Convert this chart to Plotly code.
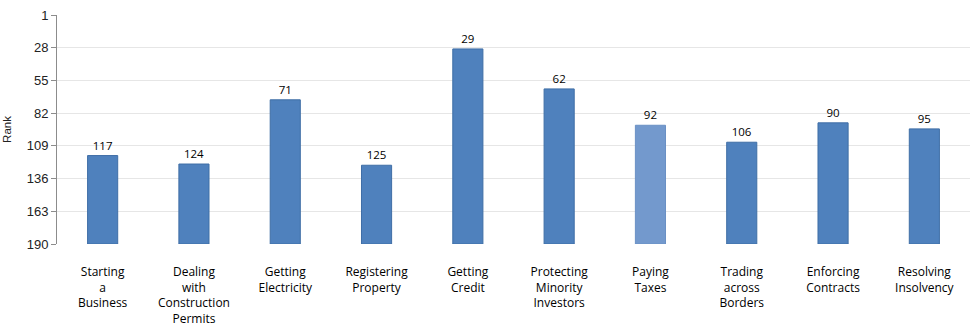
import plotly.graph_objects as go

categories = ["Starting<br>a<br>Business", "Dealing<br>with<br>Construction<br>Permits",
              "Getting<br>Electricity", "Registering<br>Property", "Getting<br>Credit",
              "Protecting<br>Minority<br>Investors", "Paying<br>Taxes", "Trading<br>across<br>Borders",
              "Enforcing<br>Contracts", "Resolving<br>Insolvency"]
ranks = [117, 124, 71, 125, 29, 62, 92, 106, 90, 95]
tick_vals = [1, 28, 55, 82, 109, 136, 163, 190]
base_rank = 190

colors = ["#7399CD" if c.startswith("Paying") else "#4F81BD" for c in categories]
line_colors = ["#6A90C4" if c.startswith("Paying") else "#3F6EA6" for c in categories]

fig = go.Figure(go.Bar(
    x=categories,
    y=[r - base_rank for r in ranks],
    base=[base_rank] * len(ranks),
    width=0.33,
    marker=dict(color=colors, line=dict(color=line_colors, width=1)),
    text=[str(r) for r in ranks],
    textposition="outside",
    textfont=dict(family="Open Sans", size=11.5, color="#000000"),
    cliponaxis=False,
    hoverinfo="skip",
))

fig.update_layout(
    width=975, height=328,
    margin=dict(l=57, r=5, t=15, b=84),
    paper_bgcolor="white", plot_bgcolor="white",
    showlegend=False,
    font=dict(family="Open Sans", size=11, color="#000000"),
)
fig.update_yaxes(
    range=[190, 1],
    automargin=False,
    tickvals=tick_vals,
    ticktext=[str(v) for v in tick_vals],
    showgrid=True, gridcolor="#E6E6E6", gridwidth=1,
    zeroline=False,
    showline=True, linecolor="#8C8C8C", linewidth=1,
    ticks="outside", ticklen=5, tickcolor="#8C8C8C",
    tickfont=dict(family="Liberation Sans", size=13, color="#222222"),
    title=dict(text="Rank", font=dict(family="Liberation Sans", size=11.5, color="#222222"), standoff=12),
)
fig.update_xaxes(
    automargin=False,
    showline=False, showgrid=False,
    tickfont=dict(family="Open Sans", size=12, color="#000000"),
    ticks="", ticklabelstandoff=19,
)

fig.write_html("out.html")
